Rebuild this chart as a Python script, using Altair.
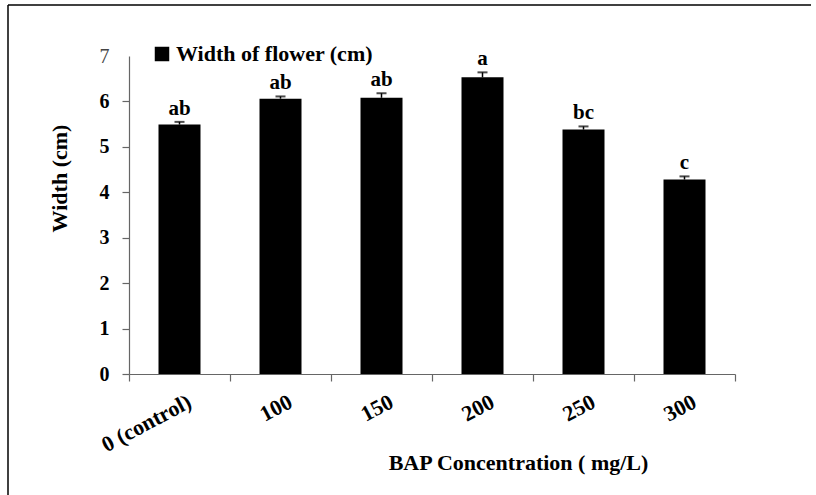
import altair as alt
import pandas as pd

# ---- data ----
categories = ["0 (control)", "100", "150", "200", "250", "300"]
means = [5.49, 6.06, 6.08, 6.53, 5.38, 4.28]
errors = [0.06, 0.05, 0.10, 0.11, 0.07, 0.07]
letters = ["ab", "ab", "ab", "a", "bc", "c"]
series_name = "Width of flower (cm)"
y_ticks = [0, 1, 2, 3, 4, 5, 6, 7]

FONT = "Liberation Serif"
AXIS_GRAY = "#666666"

df = pd.DataFrame({
    "conc": categories,
    "mean": means,
    "err": errors,
    "letter": letters,
    "series": [series_name] * len(categories),
})
df["top"] = df["mean"] + df["err"]

x_enc = alt.X(
    "conc:N",
    sort=categories,
    scale=alt.Scale(paddingInner=0, paddingOuter=0),
    axis=alt.Axis(
        title="BAP Concentration ( mg/L)",
        labelAngle=332,
        labelAlign="right",
        labelBaseline="top",
        labelFont=FONT,
        labelFontSize=22,
        labelFontWeight="bold",
        labelColor="black",
        labelPadding=10,
        labelOffset=5,
        tickBand="extent",
        tickSize=7,
        tickColor=AXIS_GRAY,
        tickWidth=1.2,
        domainColor=AXIS_GRAY,
        domainWidth=1.2,
        titleFont=FONT,
        titleFontSize=22,
        titleFontWeight="bold",
        titleColor="black",
        titleX=389,
        titleY=88,
        titleAlign="center",
        titleBaseline="middle",
    ),
)

y_enc = alt.Y(
    "mean:Q",
    scale=alt.Scale(domain=[0, 7], nice=False, zero=True),
    axis=alt.Axis(
        values=y_ticks,
        title="Width (cm)",
        labelFont=FONT,
        labelFontSize=20,
        labelFontWeight={"condition": {"test": "datum.value === 7", "value": "normal"}, "value": "bold"},
        labelColor={"condition": {"test": "datum.value === 7", "value": "#444444"}, "value": "black"},
        labelPadding=13,
        tickSize=7,
        tickColor=AXIS_GRAY,
        tickWidth=1.2,
        tickOpacity={"condition": {"test": "datum.value === 7", "value": 0}, "value": 1},
        domainColor=AXIS_GRAY,
        domainWidth=1.2,
        titleFont=FONT,
        titleFontSize=22,
        titleFontWeight="bold",
        titleColor="black",
        titleAngle=270,
        titleX=-70,
        titleY=122,
        titleAlign="center",
        titleBaseline="middle",
    ),
)

base = alt.Chart(df)

bars = base.mark_bar(size=42).encode(
    x=x_enc,
    y=y_enc,
    color=alt.Color(
        "series:N",
        scale=alt.Scale(range=["black"]),
        legend=alt.Legend(
            title=None,
            orient="none",
            legendX=22,
            legendY=-13,
            symbolType="square",
            symbolSize=210,
            symbolStrokeWidth=0,
            labelFont=FONT,
            labelFontSize=22,
            labelFontWeight="bold",
            labelColor="black",
            labelOffset=3,
            labelLimit=400,
            padding=0,
        ),
    ),
)

stems = base.mark_rule(color="black", strokeWidth=1.5).encode(
    x=alt.X("conc:N", sort=categories),
    y=alt.Y("mean:Q"),
    y2="top:Q",
)

caps = base.mark_tick(color="black", size=10, thickness=2).encode(
    x=alt.X("conc:N", sort=categories),
    y=alt.Y("top:Q"),
)

labels = base.mark_text(
    font=FONT, fontSize=21, fontWeight="bold", color="black",
    baseline="alphabetic", dy=-7,
).encode(
    x=alt.X("conc:N", sort=categories),
    y=alt.Y("top:Q"),
    text="letter:N",
)

frame_df = pd.DataFrame({"k": [0]})
frame_top = alt.Chart(frame_df).mark_rule(color="black", strokeWidth=1.5).encode(
    x=alt.value(-121), x2=alt.value(682), y=alt.value(-51)
)
frame_left = alt.Chart(frame_df).mark_rule(color="black", strokeWidth=1.5).encode(
    x=alt.value(-121), y=alt.value(-51), y2=alt.value(439)
)

chart = alt.layer(bars, stems, caps, labels, frame_top, frame_left).properties(
    width=606,
    height=318,
    padding={"left": 129, "top": 56, "right": 81, "bottom": 121},
    autosize=alt.AutoSizeParams(type="none"),
    background="white",
).configure_view(stroke=None).configure_axis(grid=False)

chart.save("out.html", embed_options={"renderer": "svg", "actions": False})
